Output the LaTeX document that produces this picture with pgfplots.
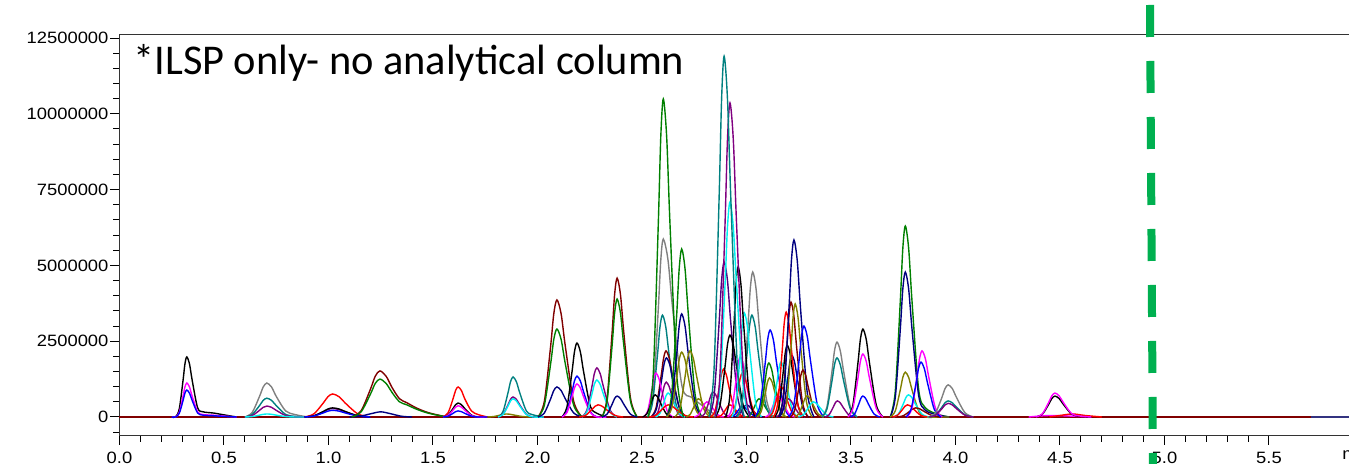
\documentclass[border=0pt]{standalone}
\usepackage{pgfplots}
\pgfplotsset{compat=1.18}
\usepackage{pgfplotstable}
\usepackage{fontspec}
\setmainfont{Liberation Sans}
\newfontfamily\titlefont{Carlito}
\newfontfamily\tickfont[FakeStretch=1.12]{Liberation Sans}

\definecolor{cgreen}{RGB}{0,128,0}
\definecolor{cnavy}{RGB}{0,0,128}
\definecolor{cmaroon}{RGB}{128,0,0}
\definecolor{cteal}{RGB}{0,128,128}
\definecolor{cpurple}{RGB}{128,0,128}
\definecolor{colive}{RGB}{128,128,0}
\definecolor{cgray}{RGB}{128,128,128}
\definecolor{cindigo}{RGB}{75,0,130}
\definecolor{ccyan}{RGB}{0,240,240}
\definecolor{cmag}{RGB}{255,0,255}
\definecolor{cred}{RGB}{255,0,0}
\definecolor{cblue}{RGB}{0,0,255}
\definecolor{dashgreen}{RGB}{0,176,80}

% intensities in millions of counts, time in min
\pgfplotstableread{
x      black  magenta blue
0.250  0      0       0
0.268  0      0       0
0.286  0.267  0.151   0.120
0.304  1.202  0.680   0.540
0.313  1.746  0.988   0.785
0.322  1.98   1.12    0.89
0.335  1.746  0.988   0.785
0.348  1.202  0.680   0.540
0.374  0.30   0.17    0.13
0.400  0.17   0.08    0.06
0.450  0.13   0.06    0.04
0.500  0.07   0.03    0.02
0.560  0      0       0
}\tA
\pgfplotstableread{
x      gray   teal   purple cyan
0.600  0      0      0      0
0.635  0.151  0.084  0.049  0.014
0.670  0.680  0.376  0.219  0.061
0.6875 0.988  0.547  0.318  0.088
0.705  1.12   0.62   0.36   0.10
0.7275 0.988  0.547  0.318  0.088
0.750  0.680  0.376  0.219  0.061
0.795  0.20   0.084  0.049  0.014
0.840  0.08   0.02   0.01   0
0.900  0      0      0      0
}\tB
\pgfplotstableread{
x      red    purple black  blue
0.885  0      0      0      0
0.930  0.103  0.038  0.041  0.030
0.975  0.461  0.170  0.182  0.134
0.9975 0.670  0.247  0.265  0.194
1.020  0.76   0.28   0.30   0.22
1.050  0.670  0.247  0.265  0.194
1.080  0.461  0.170  0.182  0.134
1.140  0.103  0.038  0.041  0.030
1.200  0      0      0      0
}\tC
\pgfplotstableread{
x      maroon green
1.111  0      0
1.156  0.205  0.169
1.201  0.923  0.759
1.2235 1.341  1.103
1.246  1.52   1.25
1.276  1.341  1.103
1.306  0.95   0.79
1.340  0.60   0.50
1.375  0.47   0.40
1.420  0.30   0.26
1.470  0.16   0.14
1.520  0.07   0.06
1.570  0      0
}\tD
\pgfplotstableread{
x      red    black  magenta blue
1.548  0      0      0       0
1.572  0.134  0.062  0.050   0.027
1.596  0.601  0.279  0.225   0.121
1.608  0.873  0.406  0.326   0.176
1.620  0.99   0.46   0.37    0.20
1.636  0.873  0.406  0.326   0.176
1.652  0.601  0.279  0.225   0.121
1.684  0.20   0.062  0.050   0.027
1.716  0.08   0      0       0
1.760  0      0      0       0
}\tE
\pgfplotstableread{
x      teal   purple cyan
1.811  0      0      0
1.835  0.178  0.089  0.081
1.859  0.801  0.401  0.364
1.871  1.164  0.582  0.529
1.883  1.32   0.66   0.60
1.899  1.164  0.582  0.529
1.915  0.801  0.401  0.364
1.947  0.20   0.089  0.081
1.979  0.07   0      0
2.030  0      0      0
}\tF
\pgfplotstableread{
x      maroon green  navy
2.003  0      0      0
2.033  0.521  0.392  0.134
2.063  2.343  1.760  0.601
2.078  3.405  2.558  0.873
2.093  3.86   2.90   0.99
2.113  3.405  2.558  0.873
2.133  2.343  1.760  0.601
2.173  0.521  0.392  0.134
2.213  0      0      0
}\tG
\pgfplotstableread{
x      black  blue   magenta
2.117  0      0      0
2.141  0.329  0.182  0.147
2.165  1.481  0.819  0.662
2.177  2.152  1.191  0.961
2.189  2.44   1.35   1.09
2.205  2.152  1.191  0.961
2.221  1.481  0.819  0.662
2.253  0.35   0.182  0.147
2.285  0.12   0      0
2.330  0      0      0
}\tH
\pgfplotstableread{
x      purple cyan
2.212  0      0
2.236  0.219  0.165
2.260  0.983  0.741
2.272  1.429  1.076
2.284  1.62   1.22
2.300  1.429  1.076
2.316  0.983  0.741
2.348  0.219  0.165
2.380  0      0
}\tI
\pgfplotstableread{
x      maroon green  navy
2.309  0      0      0
2.333  0.618  0.525  0.093
2.357  2.780  2.361  0.419
2.369  4.040  3.431  0.609
2.381  4.58   3.89   0.69
2.397  4.040  3.431  0.609
2.413  2.780  2.361  0.419
2.445  0.618  0.525  0.093
2.477  0      0      0
}\tJ
\pgfplotstableread{
x      green  navy   olive
2.618  0      0      0
2.642  0.748  0.459  0.289
2.666  3.363  2.064  1.299
2.678  4.886  2.999  1.887
2.690  5.54   3.40   2.14
2.706  4.886  2.999  1.887
2.722  3.363  2.064  1.299
2.754  0.748  0.459  0.289
2.786  0      0      0
}\tK
\pgfplotstableread{
x      teal   indigo
2.821  0      0
2.845  1.607  0.690
2.869  7.223  3.102
2.881  10.496 4.507
2.893  11.9   5.11
2.909  10.496 4.507
2.925  7.223  3.102
2.957  1.607  0.690
2.989  0      0
}\tL
\pgfplotstableread{
x      purple cyan   black
2.849  0      0      0
2.873  1.399  0.957  0.365
2.897  6.289  4.304  1.639
2.909  9.138  6.253  2.381
2.921  10.36  7.09   2.70
2.937  9.138  6.253  2.381
2.953  6.289  4.304  1.639
2.985  1.399  0.957  0.365
3.017  0      0      0
}\tM
\pgfplotstableread{
x      gray   teal
3.361  0      0
3.385  0.333  0.263
3.409  1.499  1.184
3.421  2.179  1.720
3.433  2.47   1.95
3.449  2.179  1.720
3.465  1.499  1.184
3.497  0.333  0.263
3.529  0      0
}\tN
\pgfplotstableread{
x      black  magenta
3.485  0      0
3.509  0.392  0.281
3.533  1.760  1.263
3.545  2.558  1.835
3.557  2.9    2.08
3.573  2.558  1.835
3.589  1.760  1.263
3.621  0.392  0.281
3.653  0      0
}\tO
\pgfplotstableread{
x      green  navy   olive
3.688  0      0      0
3.712  0.851  0.645  0.200
3.736  3.824  2.901  0.898
3.748  5.557  4.216  1.305
3.760  6.3    4.78   1.48
3.776  5.557  4.216  1.305
3.792  3.824  2.901  0.898
3.824  0.90   0.70   0.200
3.856  0.30   0.22   0
3.920  0.08   0.06   0
3.970  0      0      0
}\tP
\pgfplotstableread{
x      gray   teal   purple
3.875  0      0      0
3.905  0.143  0.072  0.061
3.935  0.643  0.322  0.273
3.950  0.935  0.467  0.397
3.965  1.06   0.53   0.45
3.985  0.935  0.467  0.397
4.005  0.643  0.322  0.273
4.045  0.143  0.072  0.061
4.085  0      0      0
}\tQ
\pgfplotstableread{
x      magenta black
4.386  0       0
4.416  0.107   0.093
4.446  0.480   0.419
4.461  0.697   0.609
4.476  0.79    0.69
4.496  0.697   0.609
4.516  0.480   0.419
4.556  0.107   0.093
4.596  0.03    0.02
4.650  0       0
}\tR

\begin{document}
\begin{tikzpicture}
\begin{axis}[
  at={(0,0)}, anchor=south west,
  scale only axis,
  width=614.75pt, height=200.5pt,
  xmin=0, xmax=5.883,
  ymin=-0.627, ymax=12.6,
  axis x line=box, axis y line=left,
  axis line style={-, draw=black!80, line width=0.5pt},
  xtick={0,0.5,1,1.5,2,2.5,3,3.5,4,4.5,5,5.5},
  xticklabels={0.0,0.5,1.0,1.5,2.0,2.5,3.0,3.5,4.0,4.5,5.0,5.5},
  minor x tick num=4,
  ytick={0,2.5,5,7.5,10,12.5},
  yticklabels={0,2500000,5000000,7500000,10000000,12500000},
  minor ytick={-0.5,0.5,1,1.5,2,3,3.5,4,4.5,5.5,6,6.5,7,8,8.5,9,9.5,10.5,11,11.5,12},
  xtick pos=left, ytick pos=left,
  tick align=outside,
  major tick length=4.5pt, minor tick length=3pt,
  tick style={black, line width=0.5pt},
  tick label style={font=\tickfont\fontsize{8.2}{9}\selectfont, text=black},
  yticklabel style={xshift=2.5pt},
  every axis plot/.append style={line width=0.7pt, smooth, mark=none},
  clip=false,
]
% baseline of all traces
\addplot[cnavy!60!gray] coordinates {(0,0) (5.883,0)};
\addplot[cmaroon] coordinates {(0,0) (5.7,0)};

% 0.3 - 0.7 min
\addplot[black] table[x=x,y=black] {\tA};
\addplot[cmag] table[x=x,y=magenta] {\tA};
\addplot[cblue] table[x=x,y=blue] {\tA};
\addplot[cgray] table[x=x,y=gray] {\tB};
\addplot[cteal] table[x=x,y=teal] {\tB};
\addplot[cpurple] table[x=x,y=purple] {\tB};
\addplot[ccyan] table[x=x,y=cyan] {\tB};

% 1.0 - 1.9 min
\addplot[cred] table[x=x,y=red] {\tC};
\addplot[cpurple] table[x=x,y=purple] {\tC};
\addplot[black] table[x=x,y=black] {\tC};
\addplot[cblue] table[x=x,y=blue] {\tC};
\addplot[cnavy] coordinates {(1.10,0) (1.15,0.023) (1.20,0.103) (1.25,0.17) (1.30,0.103) (1.35,0.023) (1.40,0)};
\addplot[cmaroon] table[x=x,y=maroon] {\tD};
\addplot[cgreen] table[x=x,y=green] {\tD};
\addplot[cred] table[x=x,y=red] {\tE};
\addplot[black] table[x=x,y=black] {\tE};
\addplot[cmag] table[x=x,y=magenta] {\tE};
\addplot[cblue] table[x=x,y=blue] {\tE};
\addplot[colive] coordinates {(1.76,0) (1.79,0.014) (1.82,0.061) (1.835,0.088) (1.85,0.1) (1.87,0.088) (1.89,0.061) (1.93,0.014) (1.97,0)};
\addplot[cteal] table[x=x,y=teal] {\tF};
\addplot[cpurple] table[x=x,y=purple] {\tF};
\addplot[ccyan] table[x=x,y=cyan] {\tF};

% 2.0 - 2.5 min
\addplot[cmaroon] table[x=x,y=maroon] {\tG};
\addplot[cgreen] table[x=x,y=green] {\tG};
\addplot[cnavy] table[x=x,y=navy] {\tG};
\addplot[black] table[x=x,y=black] {\tH};
\addplot[cblue] table[x=x,y=blue] {\tH};
\addplot[cmag] table[x=x,y=magenta] {\tH};
\addplot[cpurple] table[x=x,y=purple] {\tI};
\addplot[ccyan] table[x=x,y=cyan] {\tI};
\addplot[cred] coordinates {(2.20,0) (2.23,0.054) (2.26,0.243) (2.275,0.353) (2.29,0.4) (2.31,0.353) (2.33,0.243) (2.37,0.054) (2.41,0)};
\addplot[cmaroon] table[x=x,y=maroon] {\tJ};
\addplot[cgreen] table[x=x,y=green] {\tJ};
\addplot[cnavy] table[x=x,y=navy] {\tJ};

% 2.5 - 2.8 min
\addplot[cgray] coordinates {(2.530,0) (2.554,0.792) (2.578,3.563) (2.590,5.177) (2.602,5.87) (2.6245,5.177) (2.647,3.563) (2.692,1.0) (2.737,0.65) (2.78,0.42) (2.84,0.12) (2.88,0)};
\addplot[cteal] coordinates {(2.526,0) (2.550,0.454) (2.574,2.040) (2.586,2.964) (2.598,3.36) (2.614,2.964) (2.630,2.040) (2.662,0.454) (2.694,0)};
\addplot[cmaroon] coordinates {(2.543,0) (2.567,0.294) (2.591,1.323) (2.603,1.923) (2.615,2.18) (2.631,1.923) (2.647,1.323) (2.679,0.294) (2.711,0)};
\addplot[cnavy] coordinates {(2.545,0) (2.569,0.263) (2.593,1.184) (2.605,1.720) (2.617,1.95) (2.633,1.720) (2.649,1.184) (2.681,0.263) (2.713,0)};
\addplot[cmag] coordinates {(2.507,0) (2.527,0.196) (2.547,0.880) (2.557,1.279) (2.567,1.45) (2.5805,1.279) (2.594,0.880) (2.621,0.196) (2.648,0)};
\addplot[cpurple] coordinates {(2.556,0) (2.576,0.155) (2.596,0.698) (2.606,1.014) (2.616,1.15) (2.6295,1.014) (2.643,0.698) (2.670,0.155) (2.697,0)};
\addplot[black] coordinates {(2.503,0) (2.523,0.099) (2.543,0.443) (2.553,0.644) (2.563,0.73) (2.5765,0.644) (2.590,0.443) (2.617,0.099) (2.644,0)};
\addplot[ccyan] coordinates {(2.565,0) (2.585,0.107) (2.605,0.480) (2.615,0.697) (2.625,0.79) (2.6385,0.697) (2.652,0.480) (2.679,0.107) (2.706,0)};
\addplot[cred] coordinates {(2.535,0) (2.565,0.054) (2.595,0.243) (2.61,0.353) (2.625,0.4) (2.645,0.353) (2.665,0.243) (2.705,0.054) (2.745,0)};
\addplot[cgreen] coordinates {(2.530,0) (2.554,1.416) (2.578,6.367) (2.590,9.252) (2.602,10.49) (2.618,9.252) (2.634,6.367) (2.666,1.416) (2.698,0)};
\addplot[cgreen] table[x=x,y=green] {\tK};
\addplot[cnavy] table[x=x,y=navy] {\tK};
\addplot[colive] table[x=x,y=olive] {\tK};
\addplot[colive] coordinates {(2.658,0) (2.682,0.294) (2.706,1.323) (2.718,1.923) (2.730,2.18) (2.746,1.923) (2.762,1.323) (2.794,0.294) (2.826,0)};
\addplot[colive] coordinates {(2.71,0) (2.73,0.081) (2.75,0.364) (2.76,0.529) (2.77,0.6) (2.7835,0.529) (2.797,0.364) (2.824,0.081) (2.851,0)};
\addplot[cmag] coordinates {(2.75,0) (2.77,0.068) (2.79,0.304) (2.80,0.441) (2.81,0.5) (2.8235,0.441) (2.837,0.304) (2.864,0.068) (2.891,0)};
\addplot[cpurple] coordinates {(2.78,0) (2.80,0.111) (2.82,0.498) (2.83,0.723) (2.84,0.82) (2.8535,0.723) (2.867,0.498) (2.894,0.111) (2.921,0)};

% 2.8 - 3.1 min
\addplot[cred] coordinates {(2.830,0) (2.850,0.213) (2.870,0.959) (2.880,1.394) (2.890,1.58) (2.9035,1.394) (2.917,0.959) (2.944,0.213) (2.971,0)};
\addplot[cred] coordinates {(2.86,0) (2.88,0.054) (2.90,0.243) (2.91,0.353) (2.92,0.4) (2.9335,0.353) (2.947,0.243) (2.974,0.054) (3.001,0)};
\addplot[cblue] coordinates {(2.92,0) (2.94,0.047) (2.96,0.212) (2.97,0.309) (2.98,0.35) (2.9935,0.309) (3.007,0.212) (3.034,0.047) (3.061,0)};
\addplot[cnavy] coordinates {(2.94,0) (2.96,0.054) (2.98,0.243) (2.99,0.353) (3.00,0.4) (3.0135,0.353) (3.027,0.243) (3.054,0.054) (3.081,0)};
\addplot[cgreen] coordinates {(3.00,0) (3.02,0.081) (3.04,0.364) (3.05,0.529) (3.06,0.6) (3.0735,0.529) (3.087,0.364) (3.114,0.081) (3.141,0)};
\addplot[cindigo] table[x=x,y=indigo] {\tL};
\addplot[black] table[x=x,y=black] {\tM};
\addplot[cmag] coordinates {(2.910,0) (2.930,0.267) (2.950,1.202) (2.960,1.746) (2.970,1.98) (2.9835,1.746) (2.997,1.202) (3.024,0.267) (3.051,0)};
\addplot[cred] coordinates {(2.920,0) (2.940,0.196) (2.960,0.880) (2.970,1.279) (2.980,1.45) (2.9935,1.279) (3.007,0.880) (3.034,0.196) (3.061,0)};
\addplot[cgray] coordinates {(2.958,0) (2.982,0.645) (3.006,2.901) (3.018,4.216) (3.030,4.78) (3.046,4.216) (3.062,2.901) (3.094,0.645) (3.126,0)};
\addplot[cteal] coordinates {(2.954,0) (2.978,0.454) (3.002,2.040) (3.014,2.964) (3.026,3.36) (3.042,2.964) (3.058,2.040) (3.090,0.454) (3.122,0)};
\addplot[ccyan] coordinates {(2.930,0) (2.950,0.463) (2.970,2.082) (2.980,3.025) (2.990,3.43) (3.0035,3.025) (3.017,2.082) (3.044,0.463) (3.071,0)};
\addplot[black] coordinates {(2.900,0) (2.920,0.668) (2.940,3.005) (2.950,4.366) (2.960,4.95) (2.9735,4.366) (2.987,3.005) (3.014,0.668) (3.041,0)};
\addplot[ccyan] table[x=x,y=cyan] {\tM};
\addplot[cpurple] table[x=x,y=purple] {\tM};
\addplot[cteal] table[x=x,y=teal] {\tL};

% 3.1 - 3.4 min
\addplot[cblue] coordinates {(3.041,0) (3.065,0.387) (3.089,1.742) (3.101,2.531) (3.113,2.87) (3.129,2.531) (3.145,1.742) (3.177,0.387) (3.209,0)};
\addplot[cgreen] coordinates {(3.047,0) (3.067,0.240) (3.087,1.080) (3.097,1.570) (3.107,1.78) (3.1205,1.570) (3.134,1.080) (3.161,0.240) (3.188,0)};
\addplot[colive] coordinates {(3.05,0) (3.07,0.174) (3.09,0.783) (3.10,1.138) (3.11,1.29) (3.1235,1.138) (3.137,0.783) (3.164,0.174) (3.191,0)};
\addplot[cmag] coordinates {(3.09,0) (3.11,0.095) (3.13,0.425) (3.14,0.617) (3.15,0.7) (3.1635,0.617) (3.177,0.425) (3.204,0.095) (3.231,0)};
\addplot[ccyan] coordinates {(3.105,0) (3.125,0.244) (3.145,1.099) (3.155,1.596) (3.165,1.81) (3.1785,1.596) (3.192,1.099) (3.219,0.244) (3.246,0)};
\addplot[cred] coordinates {(3.105,0) (3.125,0.135) (3.145,0.607) (3.155,0.882) (3.165,1.0) (3.1785,0.882) (3.192,0.607) (3.219,0.135) (3.246,0)};
\addplot[cpurple] coordinates {(3.14,0) (3.16,0.081) (3.18,0.364) (3.19,0.529) (3.20,0.6) (3.2135,0.529) (3.227,0.364) (3.254,0.081) (3.281,0)};
\addplot[black] coordinates {(3.135,0) (3.155,0.320) (3.175,1.439) (3.185,2.090) (3.195,2.37) (3.2085,2.090) (3.222,1.439) (3.249,0.320) (3.276,0)};
\addplot[cnavy] coordinates {(3.157,0) (3.177,0.275) (3.197,1.238) (3.207,1.799) (3.217,2.04) (3.2305,1.799) (3.244,1.238) (3.271,0.275) (3.298,0)};
\addplot[cred] coordinates {(3.130,0) (3.150,0.467) (3.170,2.100) (3.180,3.052) (3.190,3.46) (3.2035,3.052) (3.217,2.100) (3.244,0.467) (3.271,0)};
\addplot[cmaroon] coordinates {(3.153,0) (3.173,0.512) (3.193,2.301) (3.203,3.343) (3.213,3.79) (3.2265,3.343) (3.240,2.301) (3.267,0.512) (3.294,0)};
\addplot[colive] coordinates {(3.173,0) (3.193,0.504) (3.213,2.264) (3.223,3.290) (3.233,3.73) (3.2465,3.290) (3.260,2.264) (3.287,0.504) (3.314,0)};
\addplot[cnavy] coordinates {(3.155,0) (3.179,0.788) (3.203,3.545) (3.215,5.151) (3.227,5.84) (3.243,5.151) (3.259,3.545) (3.291,0.788) (3.323,0)};
\addplot[cblue] coordinates {(3.203,0) (3.227,0.405) (3.251,1.821) (3.263,2.646) (3.275,3.0) (3.291,2.646) (3.307,1.821) (3.339,0.405) (3.371,0)};
\addplot[cmaroon] coordinates {(3.21,0) (3.23,0.209) (3.25,0.941) (3.26,1.367) (3.27,1.55) (3.2835,1.367) (3.297,0.941) (3.324,0.209) (3.351,0)};
\addplot[colive] coordinates {(3.23,0) (3.25,0.095) (3.27,0.425) (3.28,0.617) (3.29,0.7) (3.3035,0.617) (3.317,0.425) (3.344,0.095) (3.371,0)};
\addplot[ccyan] coordinates {(3.248,0) (3.272,0.068) (3.296,0.304) (3.308,0.441) (3.32,0.5) (3.336,0.441) (3.352,0.304) (3.384,0.068) (3.416,0)};

% 3.4 - 4.1 min
\addplot[cgray] table[x=x,y=gray] {\tN};
\addplot[cteal] table[x=x,y=teal] {\tN};
\addplot[cpurple] coordinates {(3.375,0) (3.395,0.072) (3.415,0.322) (3.425,0.467) (3.435,0.53) (3.4485,0.467) (3.462,0.322) (3.489,0.072) (3.516,0)};
\addplot[black] table[x=x,y=black] {\tO};
\addplot[cmag] table[x=x,y=magenta] {\tO};
\addplot[cblue] coordinates {(3.497,0) (3.517,0.093) (3.537,0.419) (3.547,0.609) (3.557,0.69) (3.5705,0.609) (3.584,0.419) (3.611,0.093) (3.638,0)};
\addplot[cgreen] table[x=x,y=green] {\tP};
\addplot[cnavy] table[x=x,y=navy] {\tP};
\addplot[colive] table[x=x,y=olive] {\tP};
\addplot[ccyan] coordinates {(3.703,0) (3.727,0.099) (3.751,0.443) (3.763,0.644) (3.775,0.73) (3.791,0.644) (3.807,0.443) (3.839,0.099) (3.871,0)};
\addplot[cred] coordinates {(3.698,0) (3.722,0.054) (3.746,0.243) (3.758,0.353) (3.770,0.4) (3.786,0.353) (3.802,0.243) (3.834,0.054) (3.866,0)};
\addplot[cmaroon] coordinates {(3.72,0) (3.75,0.041) (3.78,0.182) (3.795,0.265) (3.81,0.3) (3.83,0.265) (3.85,0.182) (3.89,0.041) (3.93,0)};
\addplot[cmag] coordinates {(3.768,0) (3.792,0.294) (3.816,1.323) (3.828,1.923) (3.840,2.18) (3.856,1.923) (3.872,1.323) (3.904,0.294) (3.936,0)};
\addplot[cblue] coordinates {(3.763,0) (3.787,0.244) (3.811,1.099) (3.823,1.596) (3.835,1.81) (3.851,1.596) (3.867,1.099) (3.899,0.244) (3.931,0)};
\addplot[cgray] table[x=x,y=gray] {\tQ};
\addplot[cteal] table[x=x,y=teal] {\tQ};
\addplot[cpurple] table[x=x,y=purple] {\tQ};

% 4.5 min
\addplot[cmag] coordinates {(4.35,0) (4.42,0.04) (4.47,0.05) (4.55,0.03) (4.65,0)};
\addplot[cred] coordinates {(4.45,0) (4.50,0.05) (4.56,0.1) (4.62,0.05) (4.70,0)};
\addplot[black] table[x=x,y=black] {\tR};
\addplot[cmag] table[x=x,y=magenta] {\tR};
\end{axis}
\draw[dashgreen, line width=4pt, dash pattern=on 16pt off 12pt] (515.25pt,215.5pt) -- (516.75pt,-17pt);
\node[font=\titlefont\fontsize{21.2}{24}\selectfont, anchor=base west, inner sep=0pt] at (6.75pt,180.5pt) {*ILSP only- no analytical column};
\node[font=\tickfont\fontsize{8.2}{9}\selectfont, anchor=base west, inner sep=0pt] at (611.25pt,-12pt) {min};
\pgfresetboundingbox
\path[use as bounding box] (-59.75pt,-14pt) rectangle (614.75pt,218pt);
\end{tikzpicture}
\end{document}
